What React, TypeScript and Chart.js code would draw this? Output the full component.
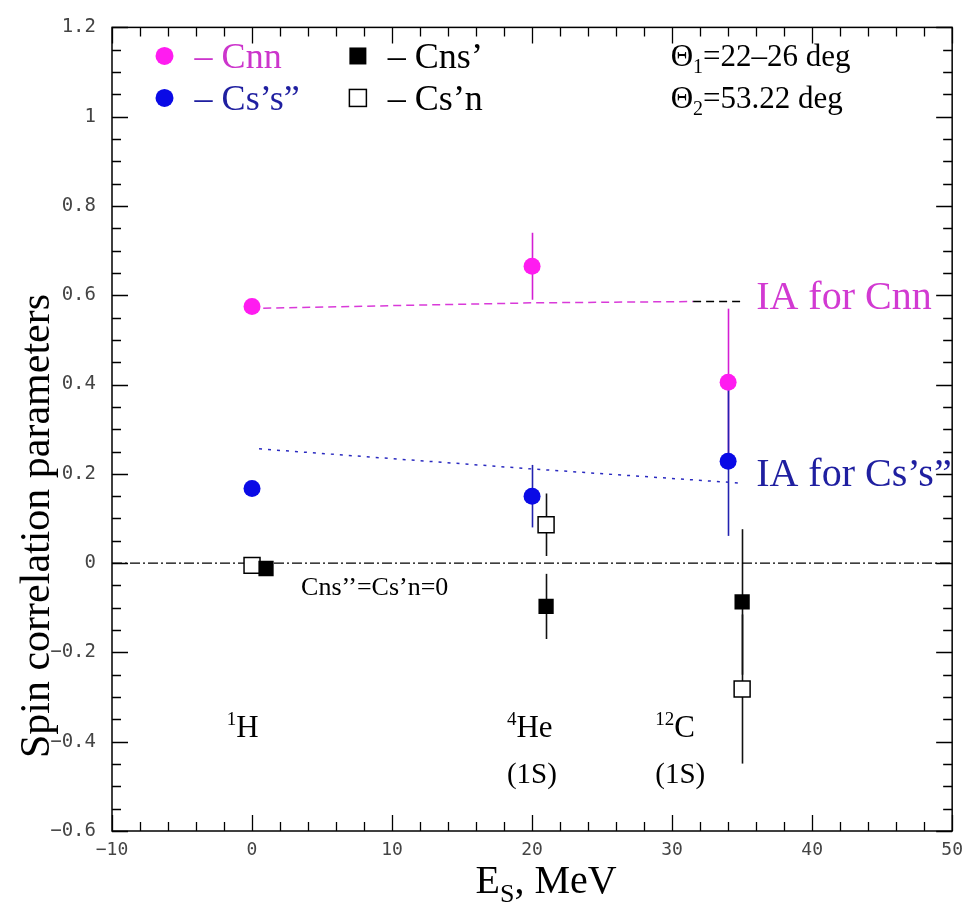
import { useEffect, useRef } from "react";
import { Chart, registerables } from "chart.js";

Chart.register(...registerables);

// ---- data ----
const cnnE = [0, 20, 34];
const cnnV = [0.575, 0.665, 0.405];
const cnnErr = [0, 0.075, 0.165];

const cssE = [0, 20, 34];
const cssV = [0.167, 0.15, 0.228];
const cssErr = [0, 0.07, 0.167];

const cnsE = [1, 21, 35];
const cnsV = [-0.012, -0.097, -0.087];
const cnsErr = [0, 0.073, 0.163];

const csnE = [0, 21, 35];
const csnV = [-0.005, 0.086, -0.282];
const csnErr = [0, 0.07, 0.167];

const iaCnnE = [0.8, 20, 31.5];
const iaCnnV = [0.571, 0.583, 0.586];
const iaCnnTailE = [31.5, 35];
const iaCnnTailV = [0.586, 0.586];

const iaCssE = [0.5, 20, 35];
const iaCssV = [0.256, 0.211, 0.179];

const zeroE = [-10, 50];
const zeroV = [0, 0];

const xTicks = { min: -10, max: 50, step: 10, minor: 2 };
const yTicks = { min: -0.6, max: 1.2, step: 0.2, minor: 0.05 };

const SERIF = '"Liberation Serif", "Times New Roman", serif';
const MAGENTA = "#ff1cf0";
const MAGENTA_TXT = "#cc35cc";
const BLUE = "#0a0ae6";
const BLUE_TXT = "#1f1fa0";

const pts = (xs: number[], ys: number[]) => xs.map((x, i) => ({ x, y: ys[i] }));

type Seg = { text: string; size: number; dy?: number };

function segsWidth(ctx: CanvasRenderingContext2D, segs: Seg[]) {
  let w = 0;
  for (const s of segs) {
    ctx.font = `${s.size}px ${SERIF}`;
    w += ctx.measureText(s.text).width;
  }
  return w;
}

function drawSegs(ctx: CanvasRenderingContext2D, x: number, yBase: number, segs: Seg[], color: string) {
  ctx.fillStyle = color;
  ctx.textAlign = "left";
  ctx.textBaseline = "alphabetic";
  let cx = x;
  for (const s of segs) {
    ctx.font = `${s.size}px ${SERIF}`;
    ctx.fillText(s.text, cx, yBase + (s.dy || 0));
    cx += ctx.measureText(s.text).width;
  }
}

const errorBarPlugin = {
  id: "errorBars",
  beforeDatasetsDraw(chart: any) {
    const { ctx } = chart;
    const xs = chart.scales.x;
    const ys = chart.scales.y;
    const series: [number[], number[], number[], string][] = [
      [cnnE, cnnV, cnnErr, "#d41ed4"],
      [cssE, cssV, cssErr, "#2222b0"],
      [cnsE, cnsV, cnsErr, "#111"],
      [csnE, csnV, csnErr, "#111"],
    ];
    ctx.save();
    ctx.lineWidth = 1.6;
    for (const [e, v, err, col] of series) {
      e.forEach((ev, i) => {
        if (!err[i]) return;
        const px = Math.round(xs.getPixelForValue(ev)) + 0.5;
        ctx.strokeStyle = col;
        ctx.beginPath();
        ctx.moveTo(px, ys.getPixelForValue(v[i] + err[i]));
        ctx.lineTo(px, ys.getPixelForValue(v[i] - err[i]));
        ctx.stroke();
      });
    }
    ctx.restore();
  },
};

const decorPlugin = {
  id: "decor",
  afterDraw(chart: any) {
    const { ctx, chartArea } = chart;
    const xs = chart.scales.x;
    const ys = chart.scales.y;
    const { left, right, top, bottom } = chartArea;
    ctx.save();
    // frame
    ctx.strokeStyle = "#000";
    ctx.lineWidth = 1.5;
    ctx.strokeRect(left, top, right - left, bottom - top);
    // ticks
    ctx.lineWidth = 1.3;
    ctx.beginPath();
    const nx = Math.round((xTicks.max - xTicks.min) / xTicks.minor);
    for (let i = 0; i <= nx; i++) {
      const v = xTicks.min + i * xTicks.minor;
      const px = Math.round(xs.getPixelForValue(v)) + 0.5;
      const len = i % 5 === 0 ? 16 : 9;
      ctx.moveTo(px, bottom);
      ctx.lineTo(px, bottom - len);
      ctx.moveTo(px, top);
      ctx.lineTo(px, top + len);
    }
    const ny = Math.round((yTicks.max - yTicks.min) / yTicks.minor);
    for (let i = 0; i <= ny; i++) {
      const v = yTicks.min + i * yTicks.minor;
      const py = Math.round(ys.getPixelForValue(v)) + 0.5;
      const len = i % 4 === 0 ? 16 : 9;
      ctx.moveTo(left, py);
      ctx.lineTo(left + len, py);
      ctx.moveTo(right, py);
      ctx.lineTo(right - len, py);
    }
    ctx.stroke();

    const X = (v: number) => xs.getPixelForValue(v);
    const Y = (v: number) => ys.getPixelForValue(v);

    // legend
    const r1 = Y(1.136);
    const r2 = Y(1.042);
    ctx.fillStyle = MAGENTA;
    ctx.beginPath();
    ctx.arc(X(-6.25), r1, 9, 0, Math.PI * 2);
    ctx.fill();
    ctx.fillStyle = BLUE;
    ctx.beginPath();
    ctx.arc(X(-6.25), r2, 9, 0, Math.PI * 2);
    ctx.fill();
    ctx.fillStyle = "#000";
    ctx.fillRect(X(7.56) - 8.5, r1 - 8.5, 17, 17);
    ctx.fillStyle = "#fff";
    ctx.strokeStyle = "#000";
    ctx.lineWidth = 1.5;
    ctx.fillRect(X(7.56) - 8.5, r2 - 8.5, 17, 17);
    ctx.strokeRect(X(7.56) - 8.5, r2 - 8.5, 17, 17);

    drawSegs(ctx, X(-4.1), r1 + 12, [{ text: "\u2013 Cnn", size: 36 }], MAGENTA_TXT);
    drawSegs(ctx, X(-4.1), r2 + 12, [{ text: "\u2013 Cs\u2019s\u201d", size: 36 }], BLUE_TXT);
    drawSegs(ctx, X(9.7), r1 + 12, [{ text: "\u2013 Cns\u2019", size: 36 }], "#000");
    drawSegs(ctx, X(9.7), r2 + 12, [{ text: "\u2013 Cs\u2019n", size: 36 }], "#000");

    // theta text
    drawSegs(ctx, X(29.9), r1 + 10, [
      { text: "\u0398", size: 31 },
      { text: "1", size: 20, dy: 7 },
      { text: "=22\u201326 deg", size: 31 },
    ], "#000");
    drawSegs(ctx, X(29.9), r2 + 10, [
      { text: "\u0398", size: 31 },
      { text: "2", size: 20, dy: 7 },
      { text: "=53.22 deg", size: 31 },
    ], "#000");

    // IA labels
    drawSegs(ctx, X(36.0), Y(0.598) + 13, [{ text: "IA for Cnn", size: 40 }], "#d23ad2");
    drawSegs(ctx, X(36.0), Y(0.202) + 13, [{ text: "IA for Cs\u2019s\u201d", size: 40 }], BLUE_TXT);

    // zero note
    drawSegs(ctx, X(3.5), Y(-0.053) + 8, [{ text: "Cns\u2019\u2019=Cs\u2019n=0", size: 26 }], "#000");

    // nuclei labels
    const nb = Y(-0.364) + 11;
    drawSegs(ctx, X(-1.8), nb, [{ text: "1", size: 19, dy: -12 }, { text: "H", size: 31 }], "#000");
    drawSegs(ctx, X(18.2), nb, [{ text: "4", size: 19, dy: -12 }, { text: "He", size: 31 }], "#000");
    drawSegs(ctx, X(28.8), nb, [{ text: "12", size: 19, dy: -12 }, { text: "C", size: 31 }], "#000");
    const sb = Y(-0.471) + 10;
    drawSegs(ctx, X(18.2), sb, [{ text: "(1S)", size: 29 }], "#000");
    drawSegs(ctx, X(28.8), sb, [{ text: "(1S)", size: 29 }], "#000");

    // axis titles
    const xt: Seg[] = [
      { text: "E", size: 40 },
      { text: "S", size: 26, dy: 9 },
      { text: ", MeV", size: 40 },
    ];
    const w = segsWidth(ctx, xt);
    drawSegs(ctx, (left + right) / 2 + 14 - w / 2, 893, xt, "#000");

    ctx.save();
    ctx.translate(49, 526);
    ctx.rotate(-Math.PI / 2);
    ctx.font = `42px ${SERIF}`;
    ctx.fillStyle = "#000";
    ctx.textAlign = "center";
    ctx.textBaseline = "alphabetic";
    ctx.fillText("Spin correlation parameters", 0, 0);
    ctx.restore();

    ctx.restore();
  },
};

export default function App() {
  const ref = useRef<HTMLCanvasElement | null>(null);
  useEffect(() => {
    if (!ref.current) return;
    const lineDs = (label: string, xs: number[], ys: number[], color: string, dash: number[], width = 1.5) => ({
      type: "line" as const,
      label,
      data: pts(xs, ys),
      borderColor: color,
      borderWidth: width,
      borderDash: dash,
      pointRadius: 0,
      showLine: true,
      fill: false,
      tension: 0,
    });
    const chart = new Chart(ref.current, {
      type: "scatter",
      data: {
        datasets: [
          {
            label: "Cnn",
            data: pts(cnnE, cnnV),
            pointStyle: "circle",
            pointRadius: 8.5,
            backgroundColor: MAGENTA,
            borderColor: MAGENTA,
            borderWidth: 0,
          },
          {
            label: "Cs's''",
            data: pts(cssE, cssV),
            pointStyle: "circle",
            pointRadius: 8.5,
            backgroundColor: BLUE,
            borderColor: BLUE,
            borderWidth: 0,
          },
          {
            label: "Cns'",
            data: pts(cnsE, cnsV),
            pointStyle: "rect",
            pointRadius: 10.8,
            backgroundColor: "#000",
            borderColor: "#000",
            borderWidth: 0,
          },
          {
            label: "Cs'n",
            data: pts(csnE, csnV),
            pointStyle: "rect",
            pointRadius: 11.3,
            backgroundColor: "#fff",
            borderColor: "#000",
            borderWidth: 1.5,
          },
          lineDs("IA Cnn", iaCnnE, iaCnnV, "#d93ad9", [8, 5]),
          lineDs("IA Cnn tail", iaCnnTailE, iaCnnTailV, "#000", [8, 5]),
          lineDs("IA Css", iaCssE, iaCssV, "#2a2ac0", [3, 6]),
          lineDs("zero", zeroE, zeroV, "#000", [10, 3, 2, 3], 1.2),
        ] as any,
      },
      options: {
        responsive: false,
        animation: false,
        layout: { padding: { top: 21, right: 13, left: 0, bottom: 0 } },
        plugins: {
          legend: { display: false },
          tooltip: { enabled: false },
        },
        scales: {
          x: {
            type: "linear",
            min: xTicks.min,
            max: xTicks.max,
            grid: { display: false, drawTicks: false },
            border: { display: false },
            ticks: {
              stepSize: xTicks.step,
              padding: 9,
              color: "#444",
              font: { family: '"DejaVu Sans Mono", monospace', size: 18 },
              callback: (v: any) => String(Math.round(Number(v))).replace("-", "\u2212"),
            },
            afterFit: (s: any) => {
              s.height = 81;
            },
          },
          y: {
            type: "linear",
            min: yTicks.min,
            max: yTicks.max,
            grid: { display: false, drawTicks: false },
            border: { display: false },
            ticks: {
              stepSize: yTicks.step,
              padding: 16,
              color: "#444",
              font: { family: '"DejaVu Sans Mono", monospace', size: 19 },
              callback: (v: any) => String(Math.round(Number(v) * 10) / 10).replace("-", "\u2212"),
            },
            afterFit: (s: any) => {
              s.width = 112;
            },
          },
        },
      },
      plugins: [errorBarPlugin, decorPlugin],
    });
    return () => chart.destroy();
  }, []);
  return (
    <div style={{ position: "fixed", left: 0, top: 0, width: 972, height: 912, background: "#fff" }}>
      <canvas ref={ref} width={972} height={912} style={{ display: "block" }} />
    </div>
  );
}
